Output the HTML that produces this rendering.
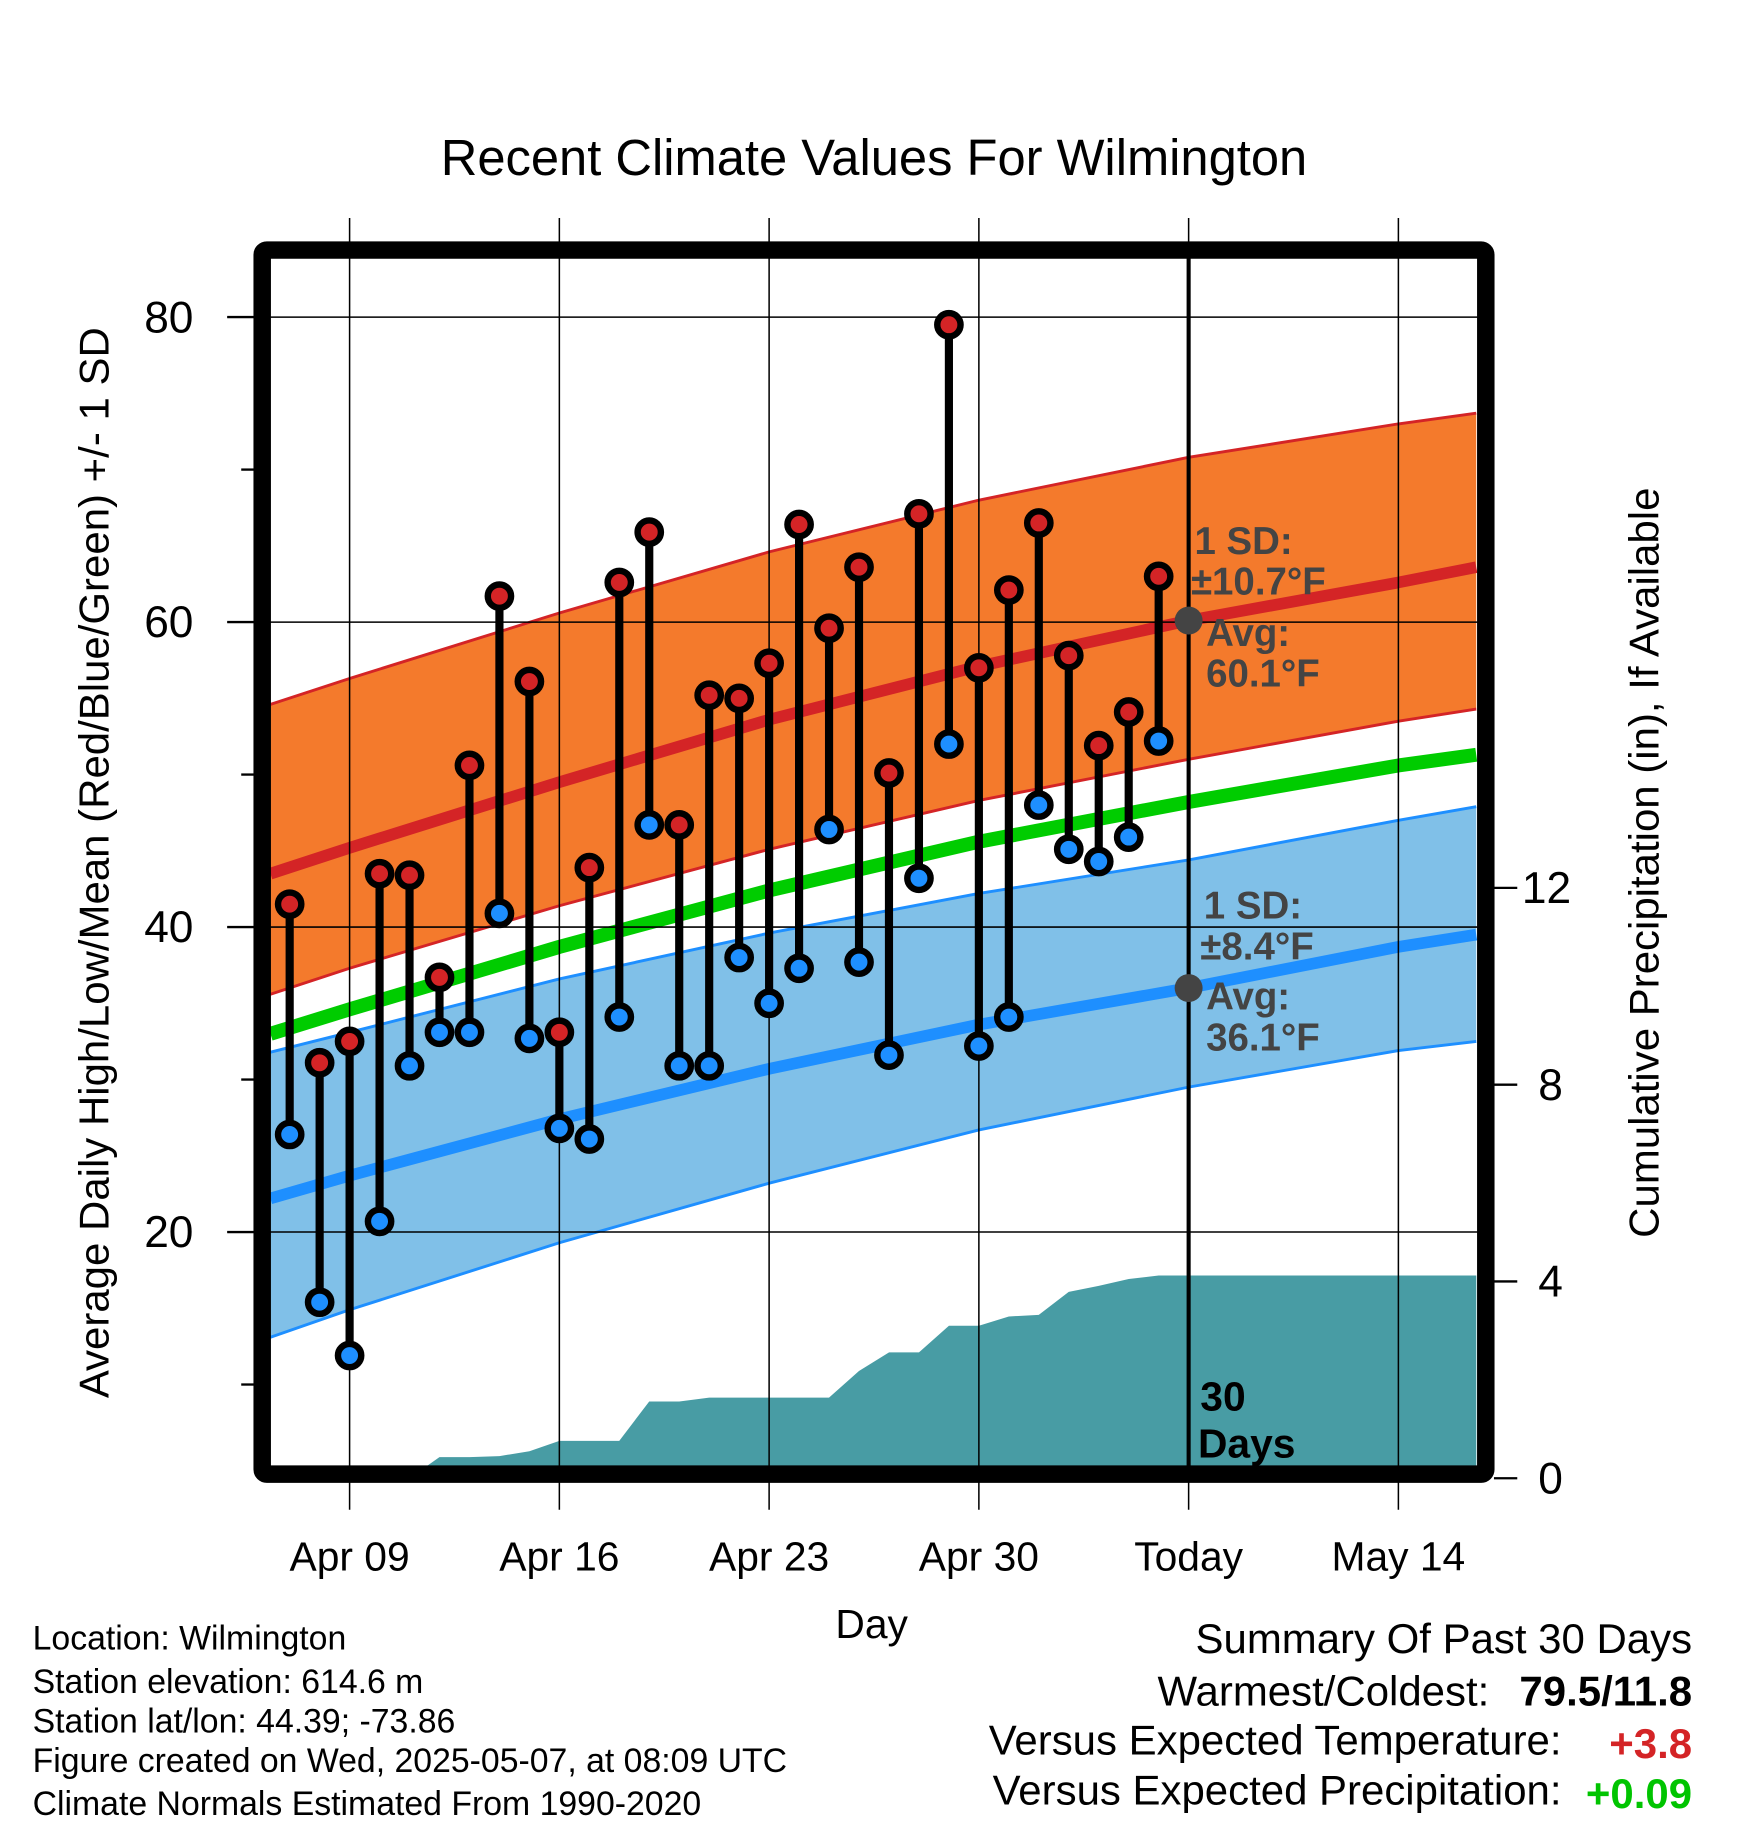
<!DOCTYPE html>
<html><head><meta charset="utf-8">
<style>
html,body{margin:0;padding:0;background:#fff;}
svg{display:block;font-family:"Liberation Sans",sans-serif;}
</style></head>
<body>
<svg id="chart" width="1748" height="1828" viewBox="0 0 1500 1568" preserveAspectRatio="none" xmlns="http://www.w3.org/2000/svg">
<defs><clipPath id="plotclip"><rect x="232" y="222" width="1036" height="1036"/></clipPath></defs>
<g id="plot" clip-path="url(#plotclip)"></g>
<g id="over"></g>
<text x="750" y="150" font-size="43.5" text-anchor="middle">Recent Climate Values For Wilmington</text>
<text transform="translate(93,740) rotate(-90)" font-size="36" text-anchor="middle">Average Daily High/Low/Mean (Red/Blue/Green) +/- 1 SD</text>
<text transform="translate(1423,740) rotate(-90)" font-size="36" text-anchor="middle">Cumulative Precipitation (in), If Available</text>
<text x="748" y="1405" font-size="35" text-anchor="middle">Day</text>
<g font-size="29">
<text x="28" y="1415">Location: Wilmington</text>
<text x="28" y="1452">Station elevation: 614.6 m</text>
<text x="28" y="1486">Station lat/lon: 44.39; -73.86</text>
<text x="28" y="1520">Figure created on Wed, 2025-05-07, at 08:09 UTC</text>
<text x="28" y="1557">Climate Normals Estimated From 1990-2020</text>
</g>
<g font-size="36">
<text x="1452" y="1418" text-anchor="end">Summary Of Past 30 Days</text>
<text x="1278" y="1463" text-anchor="end">Warmest/Coldest:</text>
<text x="1452" y="1463" text-anchor="end" font-weight="bold">79.5/11.8</text>
<text x="1340" y="1505" text-anchor="end">Versus Expected Temperature:</text>
<text x="1452" y="1508" text-anchor="end" font-weight="bold" fill="#d42426">+3.8</text>
<text x="1340" y="1548" text-anchor="end">Versus Expected Precipitation:</text>
<text x="1452" y="1551" text-anchor="end" font-weight="bold" fill="#00c400">+0.09</text>
</g>
</svg>
<script>
// ---- data ----
const dayLabels = ["Apr 09","Apr 16","Apr 23","Apr 30","Today","May 14"];
const highs = [41.5,31.1,32.5,43.5,43.4,36.7,50.6,61.7,56.1,33.1,43.9,62.6,65.9,46.7,55.2,55.0,57.3,66.4,59.6,63.6,50.1,67.1,79.5,57.0,62.1,66.5,57.8,51.9,54.1,63.0];
const lows = [26.4,15.4,11.9,20.7,30.9,33.1,33.1,40.9,32.7,26.8,26.1,34.1,46.7,30.9,30.9,38.0,35.0,37.3,46.4,37.7,31.6,43.2,52.0,32.2,34.1,48.0,45.1,44.3,45.9,52.2];
const precip = [0,0,0,0,0,0.43,0.43,0.45,0.55,0.76,0.76,0.76,1.56,1.56,1.64,1.64,1.64,1.64,1.64,2.18,2.56,2.56,3.10,3.10,3.29,3.32,3.79,3.91,4.05,4.12];
// normals at day offsets from Apr 09
const normDays = [-2.64,0,7,14,21,28,35,37.6];
const hiUpper = [54.6,56.3,60.6,64.6,68.0,70.8,73.0,73.7];
const hiMean = [43.5,45.2,49.5,53.6,57.1,60.1,62.6,63.6];
const hiLower = [35.6,37.3,41.4,45.1,48.3,51.0,53.5,54.3];
const avgMean = [33.0,34.6,38.7,42.4,45.6,48.2,50.6,51.3];
const loUpper = [31.8,33.1,36.6,39.6,42.2,44.4,47.0,47.9];
const loMean = [22.2,23.7,27.4,30.7,33.6,36.0,38.7,39.5];
const loLower = [13.1,14.9,19.3,23.2,26.7,29.5,31.9,32.5];
const yTicks = [20,40,60,80];
const yMinor = [10,30,50,70];
const pTicks = [0,4,8,12];
const firstDay = -2; // Apr 07

// ---- axes ----
const X = d => 300 + d*25.714;
const Y = v => 272 + (80 - v)*13.08;
const P = v => 1268 - v*42.2;
const NS = "http://www.w3.org/2000/svg";
const plot = document.getElementById('plot');
const over = document.getElementById('over');
function mk(tag, attrs, parent){const e=document.createElementNS(NS,tag);for(const k in attrs)e.setAttribute(k,attrs[k]);parent.appendChild(e);return e;}
function pts(days, vals, f){return days.map((d,i)=>X(d).toFixed(1)+','+f(vals[i]).toFixed(1));}

let e;
e = mk('polygon',{points:pts(normDays,hiUpper,Y).concat(pts(normDays,hiLower,Y).reverse()).join(' '),fill:'#f47a2c'},plot);
 
e = mk('polygon',{points:pts(normDays,loUpper,Y).concat(pts(normDays,loLower,Y).reverse()).join(' '),fill:'#80c0e8'},plot);
 

const pd = precip.map((v,i)=>firstDay+i);
const ppts = pts(pd,precip,P);
ppts.push(X(37.6)+','+P(precip[precip.length-1]));
ppts.push(X(37.6)+','+P(0)); ppts.unshift(X(-2.64)+','+P(0));
e = mk('polygon',{points:ppts.join(' '),fill:'#489ca4'},plot);
 

function line(vals, color, w, name){
  const l = mk('polyline',{points:pts(normDays,vals,Y).join(' '),fill:'none',stroke:color,'stroke-width':w,'stroke-linejoin':'round'},plot);
  
  
}
line(hiUpper,'#d42426',2.5,'high-upper-sd-line');
line(hiLower,'#d42426',2.5,'high-lower-sd-line');
line(hiMean,'#d42426',10,'normal-high-line');
line(avgMean,'#00cc00',12,'normal-mean-line');
line(loUpper,'#1e8fff',2.5,'low-upper-sd-line');
line(loLower,'#1e8fff',2.5,'low-lower-sd-line');
line(loMean,'#1e8fff',10,'normal-low-line');

yTicks.forEach(v=>{
  e = mk('line',{x1:195,x2:1268,y1:Y(v),y2:Y(v),stroke:'#000','stroke-width':1.3},over);
   
});
[0,7,14,21,28,35].forEach(d=>{
  e = mk('line',{x1:X(d),x2:X(d),y1:187,y2:1295,stroke:'#000','stroke-width':1.3},over);
   
});

e = mk('line',{x1:X(28),x2:X(28),y1:218,y2:1268,stroke:'#000','stroke-width':3.5},over);
 

e = mk('rect',{x:225,y:214.5,width:1050,height:1050,fill:'none',stroke:'#000','stroke-width':15,rx:4},over);
 

yTicks.forEach(v=>{
  mk('line',{x1:195,x2:218,y1:Y(v),y2:Y(v),stroke:'#000','stroke-width':2},over);
  const t = mk('text',{x:166,y:Y(v)+13,'font-size':38,'text-anchor':'end'},over);
  t.textContent = v;
   
});
yMinor.forEach(v=>{ mk('line',{x1:207,x2:218,y1:Y(v),y2:Y(v),stroke:'#000','stroke-width':2},over); });
pTicks.forEach(v=>{
  mk('line',{x1:1282,x2:1302,y1:P(v),y2:P(v),stroke:'#000','stroke-width':2},over);
  const t = mk('text',{x:v>=10?1306:1320,y:P(v)+13,'font-size':38},over);
  t.textContent = v;
   
});
dayLabels.forEach((s,i)=>{
  const t = mk('text',{x:X(i*7),y:1347,'font-size':35,'text-anchor':'middle'},over);
  t.textContent = s;
   
});

highs.forEach((h,i)=>{
  const x = X(firstDay+i);
  const s = mk('line',{x1:x,x2:x,y1:Y(h),y2:Y(lows[i]),stroke:'#000','stroke-width':7},over);
   
  const c1 = mk('circle',{cx:x,cy:Y(h),r:10,fill:'#d42426',stroke:'#000','stroke-width':5.5},over);
   
  const c2 = mk('circle',{cx:x,cy:Y(lows[i]),r:10,fill:'#1e8fff',stroke:'#000','stroke-width':5.5},over);
   
});

function ann(lines, y0, xs, name){
  const g = mk('g',{fill:'#444','font-size':33,'font-weight':'bold'},over);
   
  lines.forEach((s,i)=>{ const t=mk('text',{x:xs[i],y:y0[i]},g); t.textContent=s; });
}
e = mk('circle',{cx:X(28),cy:Y(hiMean[5]),r:12,fill:'#444'},over);
 
e = mk('circle',{cx:X(28),cy:Y(loMean[5]),r:12,fill:'#444'},over);
 
ann(['1 SD:','±10.7°F','Avg:','60.1°F'],[475,510,554,589],[1025,1022,1035,1035],'high-normal-annotation');
ann(['1 SD:','±8.4°F','Avg:','36.1°F'],[788,823,866,901],[1033,1030,1035,1035],'low-normal-annotation');
const dg = mk('g',{'font-size':35,'font-weight':'bold'},over);
 
let t1 = mk('text',{x:1030,y:1210},dg); t1.textContent='30';
let t2 = mk('text',{x:1028,y:1250},dg); t2.textContent='Days';
</script>
</body></html>
